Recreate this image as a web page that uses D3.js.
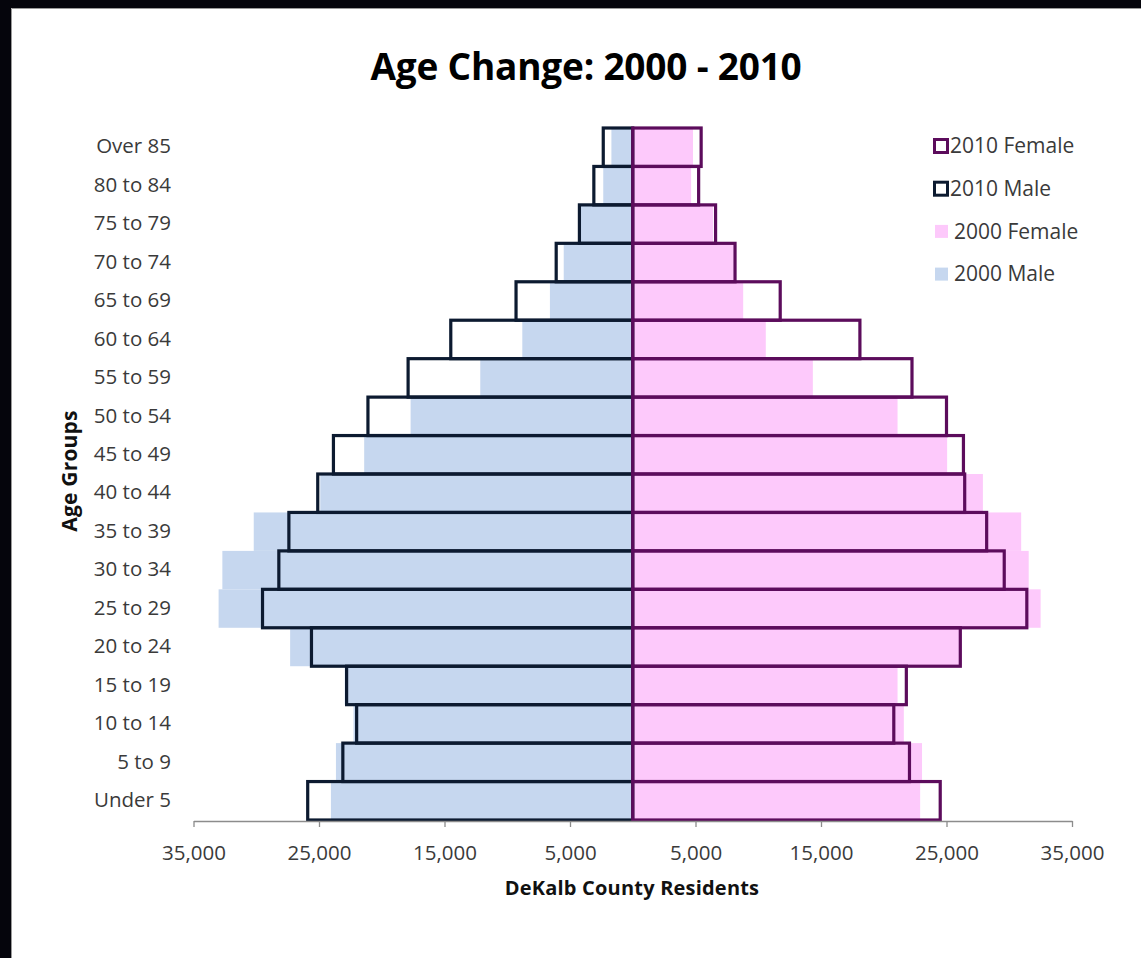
<!DOCTYPE html>
<html>
<head>
<meta charset="utf-8">
<script src="https://cdn.jsdelivr.net/npm/d3@7"></script>
<style>
  html, body { margin: 0; padding: 0; background: #ffffff; overflow: hidden; }
  svg { display: block; }
</style>
</head>
<body>
<script>
// Age groups, oldest at the top
const ageGroups = ["Over 85", "80 to 84", "75 to 79", "70 to 74", "65 to 69", "60 to 64",
  "55 to 59", "50 to 54", "45 to 49", "40 to 44", "35 to 39", "30 to 34",
  "25 to 29", "20 to 24", "15 to 19", "10 to 14", "5 to 9", "Under 5"];

// DeKalb County residents per age group
const male2000   = [1700, 2350, 4200, 5500, 6600, 8800, 12150, 17700, 21400, 24900, 30200, 32700, 33000, 27300, 22950, 22250, 23650, 24050];
const female2000 = [4800, 4650, 6400, 8050, 8800, 10600, 14350, 21100, 25050, 27900, 30950, 31550, 32500, 26200, 21100, 21600, 23050, 22900];
const male2010   = [2350, 3100, 4250, 6100, 9300, 14500, 17900, 21100, 23850, 25100, 27400, 28200, 29500, 25600, 22800, 22000, 23100, 25900];
const female2010 = [5450, 5250, 6600, 8150, 11750, 18100, 22250, 25000, 26350, 26450, 28200, 29600, 31400, 26100, 21800, 20800, 22050, 24500];

const tickValues = [-35000, -25000, -15000, -5000, 5000, 15000, 25000, 35000];

const legendItems = [
  { label: "2010 Female", kind: "outline", color: "#5c0c5c" },
  { label: "2010 Male",   kind: "outline", color: "#0c1a30" },
  { label: "2000 Female", kind: "fill",    color: "#fdc9fb" },
  { label: "2000 Male",   kind: "fill",    color: "#c6d7ef" }
];

const W = 1141, H = 958;
const FONT = "'Open Sans', 'DejaVu Sans', sans-serif";
const TEXT = "#3a3a3a";
const COLORS = {
  m2000: "#c6d7ef", f2000: "#fdc9fb",
  m2010: "#0c1a30", f2010: "#5c0c5c"
};

const svg = d3.select("body").append("svg")
  .attr("width", W).attr("height", H);

// dark frame on the top and left edges, white chart area
svg.append("rect").attr("width", W).attr("height", H).attr("fill", "#ffffff");
svg.append("rect").attr("width", W).attr("height", 8).attr("fill", "#05050c");
svg.append("rect").attr("width", 11).attr("height", H).attr("fill", "#05050c");
svg.append("path")
  .attr("d", `M11.5,${H} V8.5 H${W}`)
  .attr("fill", "none").attr("stroke", "#9a9a9a").attr("stroke-width", 1);

const x = d3.scaleLinear().domain([-35000, 35000]).range([193.5, 1072]);
const y = d3.scaleBand().domain(ageGroups).range([128, 820]).padding(0);

const rows = ageGroups.map((g, i) => ({
  group: g, m2000: male2000[i], f2000: female2000[i], m2010: male2010[i], f2010: female2010[i]
}));

const plot = svg.append("g");

// 2000 filled bars
plot.selectAll("rect.m2000").data(rows).join("rect")
  .attr("class", "m2000")
  .attr("x", d => x(-d.m2000)).attr("width", d => x(0) - x(-d.m2000))
  .attr("y", d => y(d.group)).attr("height", y.bandwidth())
  .attr("fill", COLORS.m2000);

plot.selectAll("rect.f2000").data(rows).join("rect")
  .attr("class", "f2000")
  .attr("x", x(0)).attr("width", d => x(d.f2000) - x(0))
  .attr("y", d => y(d.group)).attr("height", y.bandwidth())
  .attr("fill", COLORS.f2000);

// 2010 outlined bars on top
plot.selectAll("rect.m2010").data(rows).join("rect")
  .attr("class", "m2010")
  .attr("x", d => x(-d.m2010)).attr("width", d => x(0) - x(-d.m2010))
  .attr("y", d => y(d.group)).attr("height", y.bandwidth())
  .attr("fill", "none").attr("stroke", COLORS.m2010).attr("stroke-width", 3.2);

plot.selectAll("rect.f2010").data(rows).join("rect")
  .attr("class", "f2010")
  .attr("x", x(0)).attr("width", d => x(d.f2010) - x(0))
  .attr("y", d => y(d.group)).attr("height", y.bandwidth())
  .attr("fill", "none").attr("stroke", COLORS.f2010).attr("stroke-width", 3.2);

// horizontal value axis
const xAxis = svg.append("g")
  .attr("transform", `translate(0,${y.range()[1] + 1})`)
  .call(d3.axisBottom(x).tickValues(tickValues).tickSize(6).tickSizeOuter(0)
    .tickPadding(18).tickFormat(v => d3.format(",")(Math.abs(v))));
xAxis.select(".domain").attr("stroke", "#8c8c8c").attr("stroke-width", 1.3);
xAxis.selectAll(".tick line").attr("stroke", "#8c8c8c").attr("stroke-width", 1.3);
xAxis.selectAll(".tick text")
  .attr("font-family", FONT).attr("font-size", 20.5).attr("fill", TEXT)
  .attr("letter-spacing", 0);

// category labels
svg.append("g").selectAll("text").data(ageGroups).join("text")
  .attr("x", 171)
  .attr("y", d => y(d) + y.bandwidth() / 2 - 1)
  .attr("dy", "0.35em")
  .attr("text-anchor", "end")
  .attr("font-family", FONT).attr("font-size", 20.5).attr("fill", TEXT)
  .attr("letter-spacing", 0)
  .text(d => d);

// title
svg.append("text")
  .attr("x", 586).attr("y", 80)
  .attr("text-anchor", "middle")
  .attr("font-family", FONT).attr("font-weight", 700).attr("font-size", 37)
  .attr("letter-spacing", -0.2)
  .attr("fill", "#000")
  .text("Age Change: 2000 - 2010");

// axis titles
svg.append("text")
  .attr("x", 632).attr("y", 895)
  .attr("text-anchor", "middle")
  .attr("font-family", FONT).attr("font-weight", 700).attr("font-size", 20)
  .attr("letter-spacing", 0.2)
  .attr("fill", "#111")
  .text("DeKalb County Residents");

svg.append("text")
  .attr("transform", "translate(77,471) rotate(-90)")
  .attr("text-anchor", "middle")
  .attr("font-family", FONT).attr("font-weight", 700).attr("font-size", 21)
  .attr("letter-spacing", 0.2)
  .attr("fill", "#111")
  .text("Age Groups");

// legend
const legend = svg.append("g").attr("transform", "translate(933,146)");
const item = legend.selectAll("g").data(legendItems).join("g")
  .attr("transform", (d, i) => `translate(0,${i * 42.7})`);
item.each(function (d) {
  const g = d3.select(this);
  if (d.kind === "outline") {
    g.append("rect").attr("x", 1.5).attr("y", -6.5).attr("width", 13).attr("height", 13)
      .attr("fill", "#fff").attr("stroke", d.color).attr("stroke-width", 3);
  } else {
    g.append("rect").attr("x", 2).attr("y", -6.5).attr("width", 13).attr("height", 13)
      .attr("fill", d.color);
  }
});
item.append("text")
  .attr("x", d => d.kind === "outline" ? 17 : 21)
  .attr("y", 0).attr("dy", "0.35em")
  .attr("font-family", FONT).attr("font-size", 21).attr("fill", TEXT)
  .attr("letter-spacing", 0)
  .text(d => d.label);
</script>
</body>
</html>
